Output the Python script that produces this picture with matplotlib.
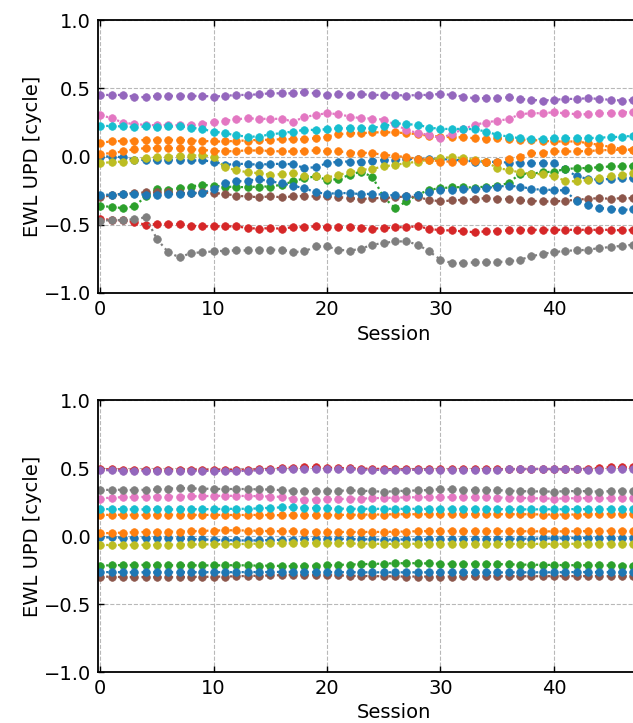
import matplotlib
matplotlib.use("Agg")
import matplotlib.pyplot as plt

sessions = list(range(48))

# ---- top panel (before fixing) ----
purple_top = [0.451, 0.451, 0.451, 0.439, 0.434, 0.444, 0.444, 0.446, 0.444, 0.444, 0.439, 0.444, 0.451, 0.451, 0.456, 0.463, 0.463, 0.463, 0.471, 0.463, 0.451, 0.459, 0.451,
              0.456, 0.451, 0.451, 0.451, 0.446, 0.451, 0.451, 0.459, 0.451, 0.439, 0.427, 0.427, 0.427, 0.434, 0.422, 0.415, 0.41, 0.415, 0.422, 0.422, 0.427, 0.422, 0.415, 0.41, 0.415]
pink_top = [0.305, 0.28, 0.249, 0.237, 0.232, 0.228, 0.232, 0.228, 0.232, 0.239, 0.251, 0.261, 0.273, 0.28, 0.276, 0.276, 0.276, 0.256, 0.288, 0.305, 0.317, 0.31, 0.293,
            0.28, 0.278, 0.27, 0.235, 0.195, 0.171, 0.159, 0.134, 0.165, 0.2, 0.232, 0.249, 0.263, 0.273, 0.31, 0.317, 0.317, 0.324, 0.317, 0.31, 0.31, 0.317, 0.317, 0.322, 0.329]
cyan_top = [0.224, 0.224, 0.22, 0.215, 0.22, 0.215, 0.22, 0.22, 0.212, 0.2, 0.183, 0.171, 0.154, 0.146, 0.146, 0.163, 0.171, 0.183, 0.195, 0.195, 0.2, 0.207, 0.207,
            0.207, 0.212, 0.22, 0.244, 0.237, 0.232, 0.212, 0.202, 0.202, 0.202, 0.2, 0.183, 0.159, 0.146, 0.134, 0.127, 0.129, 0.134, 0.134, 0.134, 0.134, 0.139, 0.141, 0.146, 0.151]
orangeA_top = [0.102, 0.11, 0.115, 0.117, 0.122, 0.122, 0.122, 0.122, 0.117, 0.115, 0.11, 0.11, 0.115, 0.117, 0.122, 0.122, 0.127, 0.127, 0.127, 0.134, 0.146, 0.163, 0.171,
               0.171, 0.176, 0.178, 0.176, 0.171, 0.163, 0.151, 0.146, 0.141, 0.141, 0.134, 0.129, 0.134, 0.129, 0.122, 0.122, 0.115, 0.11, 0.11, 0.11, 0.098, 0.085, 0.07, 0.055, 0.05]
orangeB_top = [0.02, 0.024, 0.037, 0.054, 0.061, 0.061, 0.061, 0.061, 0.054, 0.049, 0.041, 0.037, 0.041, 0.044, 0.044, 0.041, 0.037, 0.037, 0.041, 0.044, 0.037, 0.037, 0.029,
               0.029, 0.024, 0.012, 0.005, -0.005, -0.017, -0.024, -0.037, -0.037, -0.032, -0.032, -0.037, -0.037, -0.017, 0.0, 0.024, 0.029, 0.037, 0.037, 0.037, 0.041, 0.044, 0.049, 0.049, 0.049]
blueA_top = [0.0, 0.0, -0.005, -0.024, -0.024, -0.029, -0.024, -0.024, -0.029, -0.029, -0.037, -0.061, -0.054, -0.054, -0.061, -0.054, -0.054, -0.056, -0.085, -0.078, -0.049, -0.037, -0.037,
             -0.037, -0.032, -0.024, -0.024, -0.02, -0.017, -0.017, -0.017, -0.024, -0.029, -0.037, -0.037, -0.041, -0.044, -0.044, -0.049, -0.049, -0.049, -0.09, -0.146, -0.163, -0.171, -0.163, -0.159, -0.159]
olive_top = [-0.049, -0.041, -0.037, -0.024, -0.012, -0.005, 0.0, 0.005, 0.005, 0.012, -0.005, -0.078, -0.102, -0.115, -0.122, -0.134, -0.129, -0.122, -0.146, -0.141, -0.154, -0.134, -0.117,
             -0.098, -0.09, -0.073, -0.061, -0.049, -0.037, -0.024, -0.012, -0.005, -0.012, -0.024, -0.037, -0.085, -0.098, -0.117, -0.127, -0.13, -0.146, -0.178, -0.183, -0.171, -0.159, -0.146, -0.134, -0.122]
green_top = [-0.361, -0.37, -0.378, -0.366, -0.293, -0.239, -0.244, -0.232, -0.22, -0.207, -0.215, -0.22, -0.224, -0.224, -0.22, -0.22, -0.207, -0.183, -0.159, -0.146, -0.171, -0.166, -0.134,
             -0.11, -0.15, -0.3, -0.378, -0.329, -0.28, -0.244, -0.232, -0.226, -0.224, -0.228, -0.22, -0.215, -0.195, -0.127, -0.125, -0.117, -0.11, -0.093, -0.085, -0.085, -0.078, -0.073, -0.073, -0.068]
blueB_top = [-0.28, -0.28, -0.273, -0.273, -0.28, -0.28, -0.276, -0.273, -0.268, -0.268, -0.235, -0.195, -0.183, -0.176, -0.166, -0.183, -0.195, -0.215, -0.232, -0.263, -0.273, -0.268, -0.268,
             -0.276, -0.273, -0.28, -0.285, -0.288, -0.28, -0.263, -0.244, -0.244, -0.239, -0.239, -0.232, -0.22, -0.215, -0.22, -0.237, -0.244, -0.244, -0.249, -0.329, -0.354, -0.378, -0.383, -0.39, -0.388]
brown_top = [-0.298, -0.285, -0.273, -0.268, -0.263, -0.263, -0.263, -0.268, -0.268, -0.263, -0.268, -0.273, -0.288, -0.293, -0.298, -0.293, -0.298, -0.293, -0.288, -0.293, -0.293, -0.298, -0.305,
             -0.312, -0.305, -0.305, -0.298, -0.293, -0.298, -0.317, -0.329, -0.322, -0.317, -0.312, -0.305, -0.31, -0.312, -0.322, -0.324, -0.329, -0.329, -0.324, -0.317, -0.31, -0.305, -0.31, -0.305, -0.305]
red_top = [-0.459, -0.463, -0.468, -0.48, -0.5, -0.495, -0.493, -0.495, -0.507, -0.512, -0.512, -0.512, -0.512, -0.524, -0.529, -0.524, -0.529, -0.517, -0.517, -0.512, -0.519, -0.519, -0.519,
           -0.524, -0.529, -0.524, -0.519, -0.517, -0.512, -0.529, -0.541, -0.541, -0.549, -0.554, -0.549, -0.544, -0.541, -0.537, -0.537, -0.537, -0.537, -0.537, -0.537, -0.537, -0.537, -0.537, -0.541, -0.537]
gray_top = [-0.476, -0.463, -0.468, -0.459, -0.446, -0.605, -0.702, -0.739, -0.707, -0.702, -0.695, -0.69, -0.688, -0.688, -0.683, -0.683, -0.683, -0.7, -0.695, -0.659, -0.659, -0.683, -0.69,
            -0.675, -0.646, -0.634, -0.622, -0.622, -0.646, -0.695, -0.756, -0.78, -0.78, -0.776, -0.776, -0.773, -0.768, -0.756, -0.732, -0.712, -0.702, -0.69, -0.688, -0.683, -0.671, -0.663, -0.654, -0.646]

# ---- bottom panel (after fixing) ----
purple_bot = [0.485, 0.483, 0.48, 0.48, 0.478, 0.48, 0.478, 0.48, 0.48, 0.478, 0.48, 0.478, 0.477, 0.48, 0.482, 0.488, 0.49, 0.492, 0.493, 0.492, 0.49, 0.49, 0.49, 0.488,
              0.487, 0.485, 0.485, 0.485, 0.487, 0.487, 0.487, 0.488, 0.487, 0.486, 0.486, 0.487, 0.49, 0.492, 0.492, 0.493, 0.492, 0.49, 0.49, 0.488, 0.488, 0.49, 0.49, 0.49]
red_bot = [0.49, 0.49, 0.488, 0.488, 0.487, 0.488, 0.487, 0.488, 0.488, 0.487, 0.488, 0.487, 0.486, 0.488, 0.49, 0.495, 0.5, 0.503, 0.505, 0.507, 0.503, 0.5, 0.498, 0.496,
           0.494, 0.493, 0.49, 0.49, 0.49, 0.49, 0.49, 0.49, 0.49, 0.49, 0.49, 0.49, 0.492, 0.493, 0.493, 0.493, 0.492, 0.492, 0.492, 0.495, 0.5, 0.505, 0.505, 0.505]
gray_bot = [0.338, 0.34, 0.34, 0.338, 0.34, 0.342, 0.348, 0.352, 0.35, 0.348, 0.347, 0.345, 0.346, 0.345, 0.343, 0.342, 0.337, 0.332, 0.332, 0.33, 0.332, 0.333, 0.335, 0.333,
            0.33, 0.325, 0.33, 0.333, 0.335, 0.338, 0.345, 0.342, 0.34, 0.338, 0.338, 0.337, 0.334, 0.33, 0.328, 0.328, 0.326, 0.33, 0.33, 0.33, 0.326, 0.33, 0.333, 0.332]
pink_bot = [0.275, 0.283, 0.285, 0.285, 0.288, 0.29, 0.29, 0.29, 0.292, 0.293, 0.295, 0.296, 0.295, 0.294, 0.293, 0.29, 0.288, 0.272, 0.268, 0.268, 0.27, 0.272, 0.274, 0.275,
            0.278, 0.28, 0.282, 0.284, 0.285, 0.285, 0.285, 0.285, 0.285, 0.284, 0.284, 0.283, 0.282, 0.28, 0.278, 0.276, 0.275, 0.276, 0.278, 0.278, 0.277, 0.278, 0.28, 0.28]
cyan_bot = [0.198, 0.198, 0.197, 0.195, 0.196, 0.197, 0.195, 0.197, 0.198, 0.197, 0.198, 0.2, 0.2, 0.2, 0.203, 0.208, 0.21, 0.212, 0.208, 0.205, 0.203, 0.202, 0.2, 0.2,
            0.2, 0.2, 0.2, 0.2, 0.2, 0.2, 0.2, 0.2, 0.2, 0.2, 0.2, 0.198, 0.197, 0.196, 0.196, 0.196, 0.197, 0.197, 0.198, 0.198, 0.197, 0.198, 0.198, 0.198]
orangeA_bot = [0.155, 0.156, 0.156, 0.155, 0.155, 0.156, 0.157, 0.156, 0.156, 0.155, 0.155, 0.155, 0.154, 0.155, 0.155, 0.154, 0.153, 0.152, 0.152, 0.153, 0.154, 0.155, 0.156, 0.157,
               0.158, 0.158, 0.16, 0.16, 0.16, 0.16, 0.16, 0.16, 0.16, 0.16, 0.16, 0.16, 0.16, 0.16, 0.16, 0.158, 0.158, 0.158, 0.158, 0.16, 0.16, 0.162, 0.162, 0.162]
orangeB_bot = [0.02, 0.022, 0.025, 0.028, 0.03, 0.03, 0.032, 0.033, 0.035, 0.038, 0.04, 0.042, 0.042, 0.04, 0.038, 0.036, 0.035, 0.035, 0.033, 0.032, 0.03, 0.03, 0.03, 0.03,
               0.03, 0.03, 0.032, 0.033, 0.035, 0.036, 0.036, 0.037, 0.037, 0.037, 0.036, 0.035, 0.035, 0.035, 0.035, 0.034, 0.034, 0.034, 0.035, 0.036, 0.037, 0.038, 0.038, 0.037]
blueA_bot = [-0.01, -0.01, -0.012, -0.012, -0.012, -0.013, -0.015, -0.018, -0.022, -0.025, -0.028, -0.03, -0.032, -0.033, -0.032, -0.03, -0.028, -0.026, -0.024, -0.022, -0.02, -0.02, -0.022, -0.024,
             -0.025, -0.026, -0.026, -0.025, -0.025, -0.024, -0.024, -0.024, -0.024, -0.024, -0.023, -0.022, -0.02, -0.02, -0.02, -0.018, -0.018, -0.016, -0.015, -0.014, -0.014, -0.015, -0.015, -0.016]
olive_bot = [-0.066, -0.066, -0.066, -0.065, -0.065, -0.065, -0.064, -0.063, -0.062, -0.062, -0.06, -0.06, -0.06, -0.058, -0.056, -0.055, -0.055, -0.054, -0.052, -0.05, -0.05, -0.052, -0.055, -0.056,
             -0.057, -0.058, -0.058, -0.057, -0.057, -0.056, -0.056, -0.056, -0.056, -0.057, -0.058, -0.058, -0.058, -0.058, -0.058, -0.058, -0.058, -0.058, -0.057, -0.056, -0.056, -0.056, -0.057, -0.057]
green_bot = [-0.218, -0.215, -0.214, -0.213, -0.212, -0.214, -0.215, -0.216, -0.215, -0.216, -0.216, -0.215, -0.215, -0.216, -0.218, -0.218, -0.22, -0.222, -0.22, -0.218, -0.215, -0.212, -0.21, -0.207,
             -0.205, -0.203, -0.2, -0.2, -0.2, -0.202, -0.204, -0.205, -0.205, -0.205, -0.206, -0.207, -0.208, -0.21, -0.211, -0.212, -0.213, -0.214, -0.215, -0.215, -0.216, -0.216, -0.217, -0.217]
blueB_bot = [-0.265, -0.266, -0.266, -0.267, -0.267, -0.267, -0.266, -0.266, -0.266, -0.266, -0.266, -0.266, -0.266, -0.265, -0.265, -0.265, -0.264, -0.264, -0.264, -0.265, -0.265, -0.266, -0.266, -0.267,
             -0.267, -0.267, -0.267, -0.267, -0.267, -0.267, -0.268, -0.268, -0.268, -0.268, -0.268, -0.268, -0.267, -0.267, -0.267, -0.267, -0.267, -0.266, -0.265, -0.265, -0.265, -0.266, -0.266, -0.266]
brown_bot = [-0.298, -0.3, -0.302, -0.302, -0.302, -0.302, -0.303, -0.302, -0.3, -0.3, -0.3, -0.298, -0.296, -0.294, -0.292, -0.29, -0.288, -0.286, -0.285, -0.286, -0.288, -0.29, -0.292, -0.294,
             -0.295, -0.296, -0.297, -0.298, -0.298, -0.298, -0.298, -0.298, -0.297, -0.297, -0.296, -0.296, -0.296, -0.296, -0.296, -0.296, -0.295, -0.295, -0.295, -0.295, -0.295, -0.296, -0.296, -0.296]

x_ticks = [0, 10, 20, 30, 40]
y_ticks = [-1.0, -0.5, 0.0, 0.5, 1.0]
x_label = "Session"
y_label = "EWL UPD [cycle]"

C = {"blue": "#1f77b4", "orange": "#ff7f0e", "green": "#2ca02c", "red": "#d62728",
     "purple": "#9467bd", "brown": "#8c564b", "pink": "#e377c2", "gray": "#7f7f7f",
     "olive": "#bcbd22", "cyan": "#17becf"}

top_series = [(blueA_top, "blue"), (orangeA_top, "orange"), (green_top, "green"), (red_top, "red"),
              (purple_top, "purple"), (brown_top, "brown"), (pink_top, "pink"), (gray_top, "gray"),
              (olive_top, "olive"), (cyan_top, "cyan"), (blueB_top, "blue"), (orangeB_top, "orange")]
bot_series = [(blueA_bot, "blue"), (orangeA_bot, "orange"), (green_bot, "green"), (red_bot, "red"),
              (purple_bot, "purple"), (brown_bot, "brown"), (pink_bot, "pink"), (gray_bot, "gray"),
              (olive_bot, "olive"), (cyan_bot, "cyan"), (blueB_bot, "blue"), (orangeB_bot, "orange")]

W, H = 633, 723
fig = plt.figure(figsize=(W / 100, H / 100), dpi=100)
left = 98 / W
width = 592 / W
ax_top = fig.add_axes([left, 1 - 293 / H, width, 273 / H])
ax_bot = fig.add_axes([left, 1 - 672 / H, width, 272 / H])

for ax, series in ((ax_top, top_series), (ax_bot, bot_series)):
    for vals, cname in series:
        ax.plot(sessions, vals, linestyle=":", marker="o", ms=5.5, lw=1.6,
                color=C[cname], mec=C[cname], mew=0.5)
    ax.set_xlim(-0.2, 52)
    ax.set_ylim(-1.0, 1.0)
    ax.set_xticks(x_ticks)
    ax.set_yticks(y_ticks)
    ax.grid(True, linestyle="--", color="#b8b8b8", lw=0.8)
    ax.set_axisbelow(True)
    ax.tick_params(direction="in", top=True, right=True, labelsize=14, length=4, width=1, pad=5)
    for sp in ax.spines.values():
        sp.set_linewidth(1.3)
    ax.set_xlabel(x_label, fontsize=14)
    ax.set_ylabel(y_label, fontsize=14)
    ax.yaxis.set_label_coords(-0.095, 0.5)

fig.savefig("out.png", dpi=100)
